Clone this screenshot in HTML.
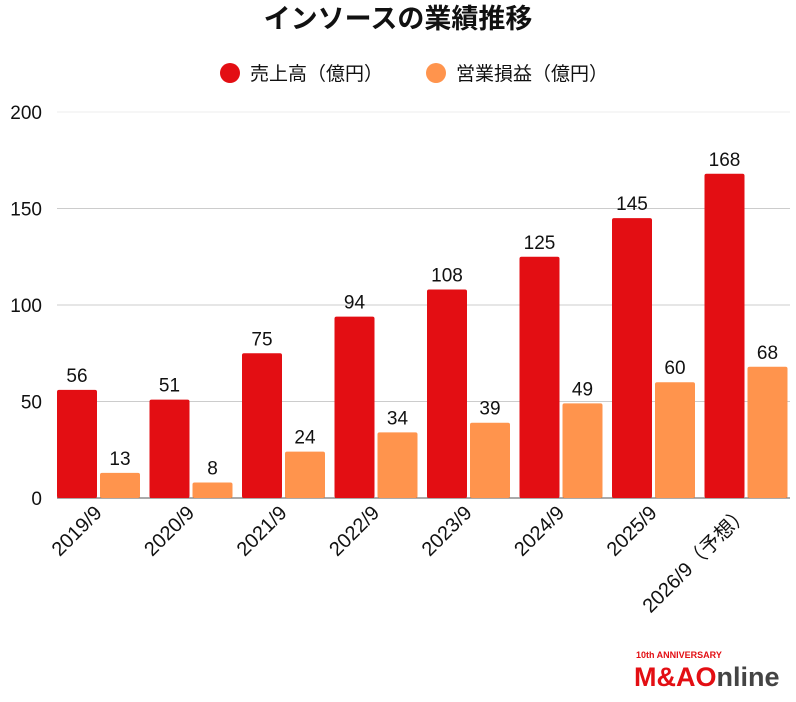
<!DOCTYPE html>
<html><head><meta charset="utf-8"><style>
body{margin:0;background:#fff;font-family:"Liberation Sans","Noto Sans CJK JP",sans-serif}
svg text{font-family:"Liberation Sans","Noto Sans CJK JP",sans-serif}
</style></head><body>
<svg id="c" width="796" height="697">
<text x="398" y="28" text-anchor="middle" font-size="27" font-weight="bold" fill="#111">インソースの業績推移</text>
<g>
<circle cx="230" cy="73" r="10" fill="#e30e13"/>
<text x="250" y="80" font-size="19" fill="#111">売上高（億円）</text>
<circle cx="436" cy="73" r="10" fill="#ff944d"/>
<text x="456" y="80" font-size="19" fill="#111">営業損益（億円）</text>
</g>
<g id="grid"></g><g id="bars"></g><g id="xl"></g>
<g>
<text x="636" y="658" font-size="9" font-weight="bold" fill="#e30e13">10th ANNIVERSARY</text>
<text x="634" y="686" font-size="27" font-weight="bold" fill="#e30e13">M&amp;A<tspan fill="#e30e13">O</tspan><tspan fill="#444">nline</tspan></text>
</g>
</svg>
<script>
const categories=["2019/9","2020/9","2021/9","2022/9","2023/9","2024/9","2025/9","2026/9（予想）"];
const sales=[56,51,75,94,108,125,145,168];
const profit=[13,8,24,34,39,49,60,68];
const ticks=[0,50,100,150,200];
const NS="http://www.w3.org/2000/svg";
const y0=498,k=1.93,x0=55,step=92.5;
const y=v=>y0-v*k;
function mk(t,a,p){const e=document.createElementNS(NS,t);for(const n in a)e.setAttribute(n,a[n]);p.appendChild(e);return e;}
const g=document.getElementById('grid');
ticks.forEach(t=>{
 const l=mk('line',{x1:57,x2:790,y1:y(t),y2:y(t),stroke:t==0?'#555':(t==200?'#eee':'#ccc'),'stroke-width':1},g);
 
 
 const tx=mk('text',{x:42,y:y(t)+7,'text-anchor':'end','font-size':19,fill:'#111'},g);tx.textContent=t;
 
 
});
const b=document.getElementById('bars'),xl=document.getElementById('xl');
categories.forEach((c,i)=>{
 const gx=x0+i*step;
 [[sales[i],'#e30e13',2,'sales'],[profit[i],'#ff944d',45,'profit']].forEach(([v,col,off,nm])=>{
  const r=mk('rect',{x:gx+off,y:y(v),width:40,height:v*k,fill:col,rx:2},b);
  
  
  const t=mk('text',{x:gx+off+20,y:y(v)-8,'text-anchor':'middle','font-size':19,fill:'#111'},b);t.textContent=v;
  
  
 });
 const cx=gx+48;
 const t=mk('text',{x:0,y:0,'text-anchor':'end','font-size':20,fill:'#111',transform:`translate(${cx},${514}) rotate(-45)`},xl);t.textContent=c;
 
 
});
</script>
</body></html>
